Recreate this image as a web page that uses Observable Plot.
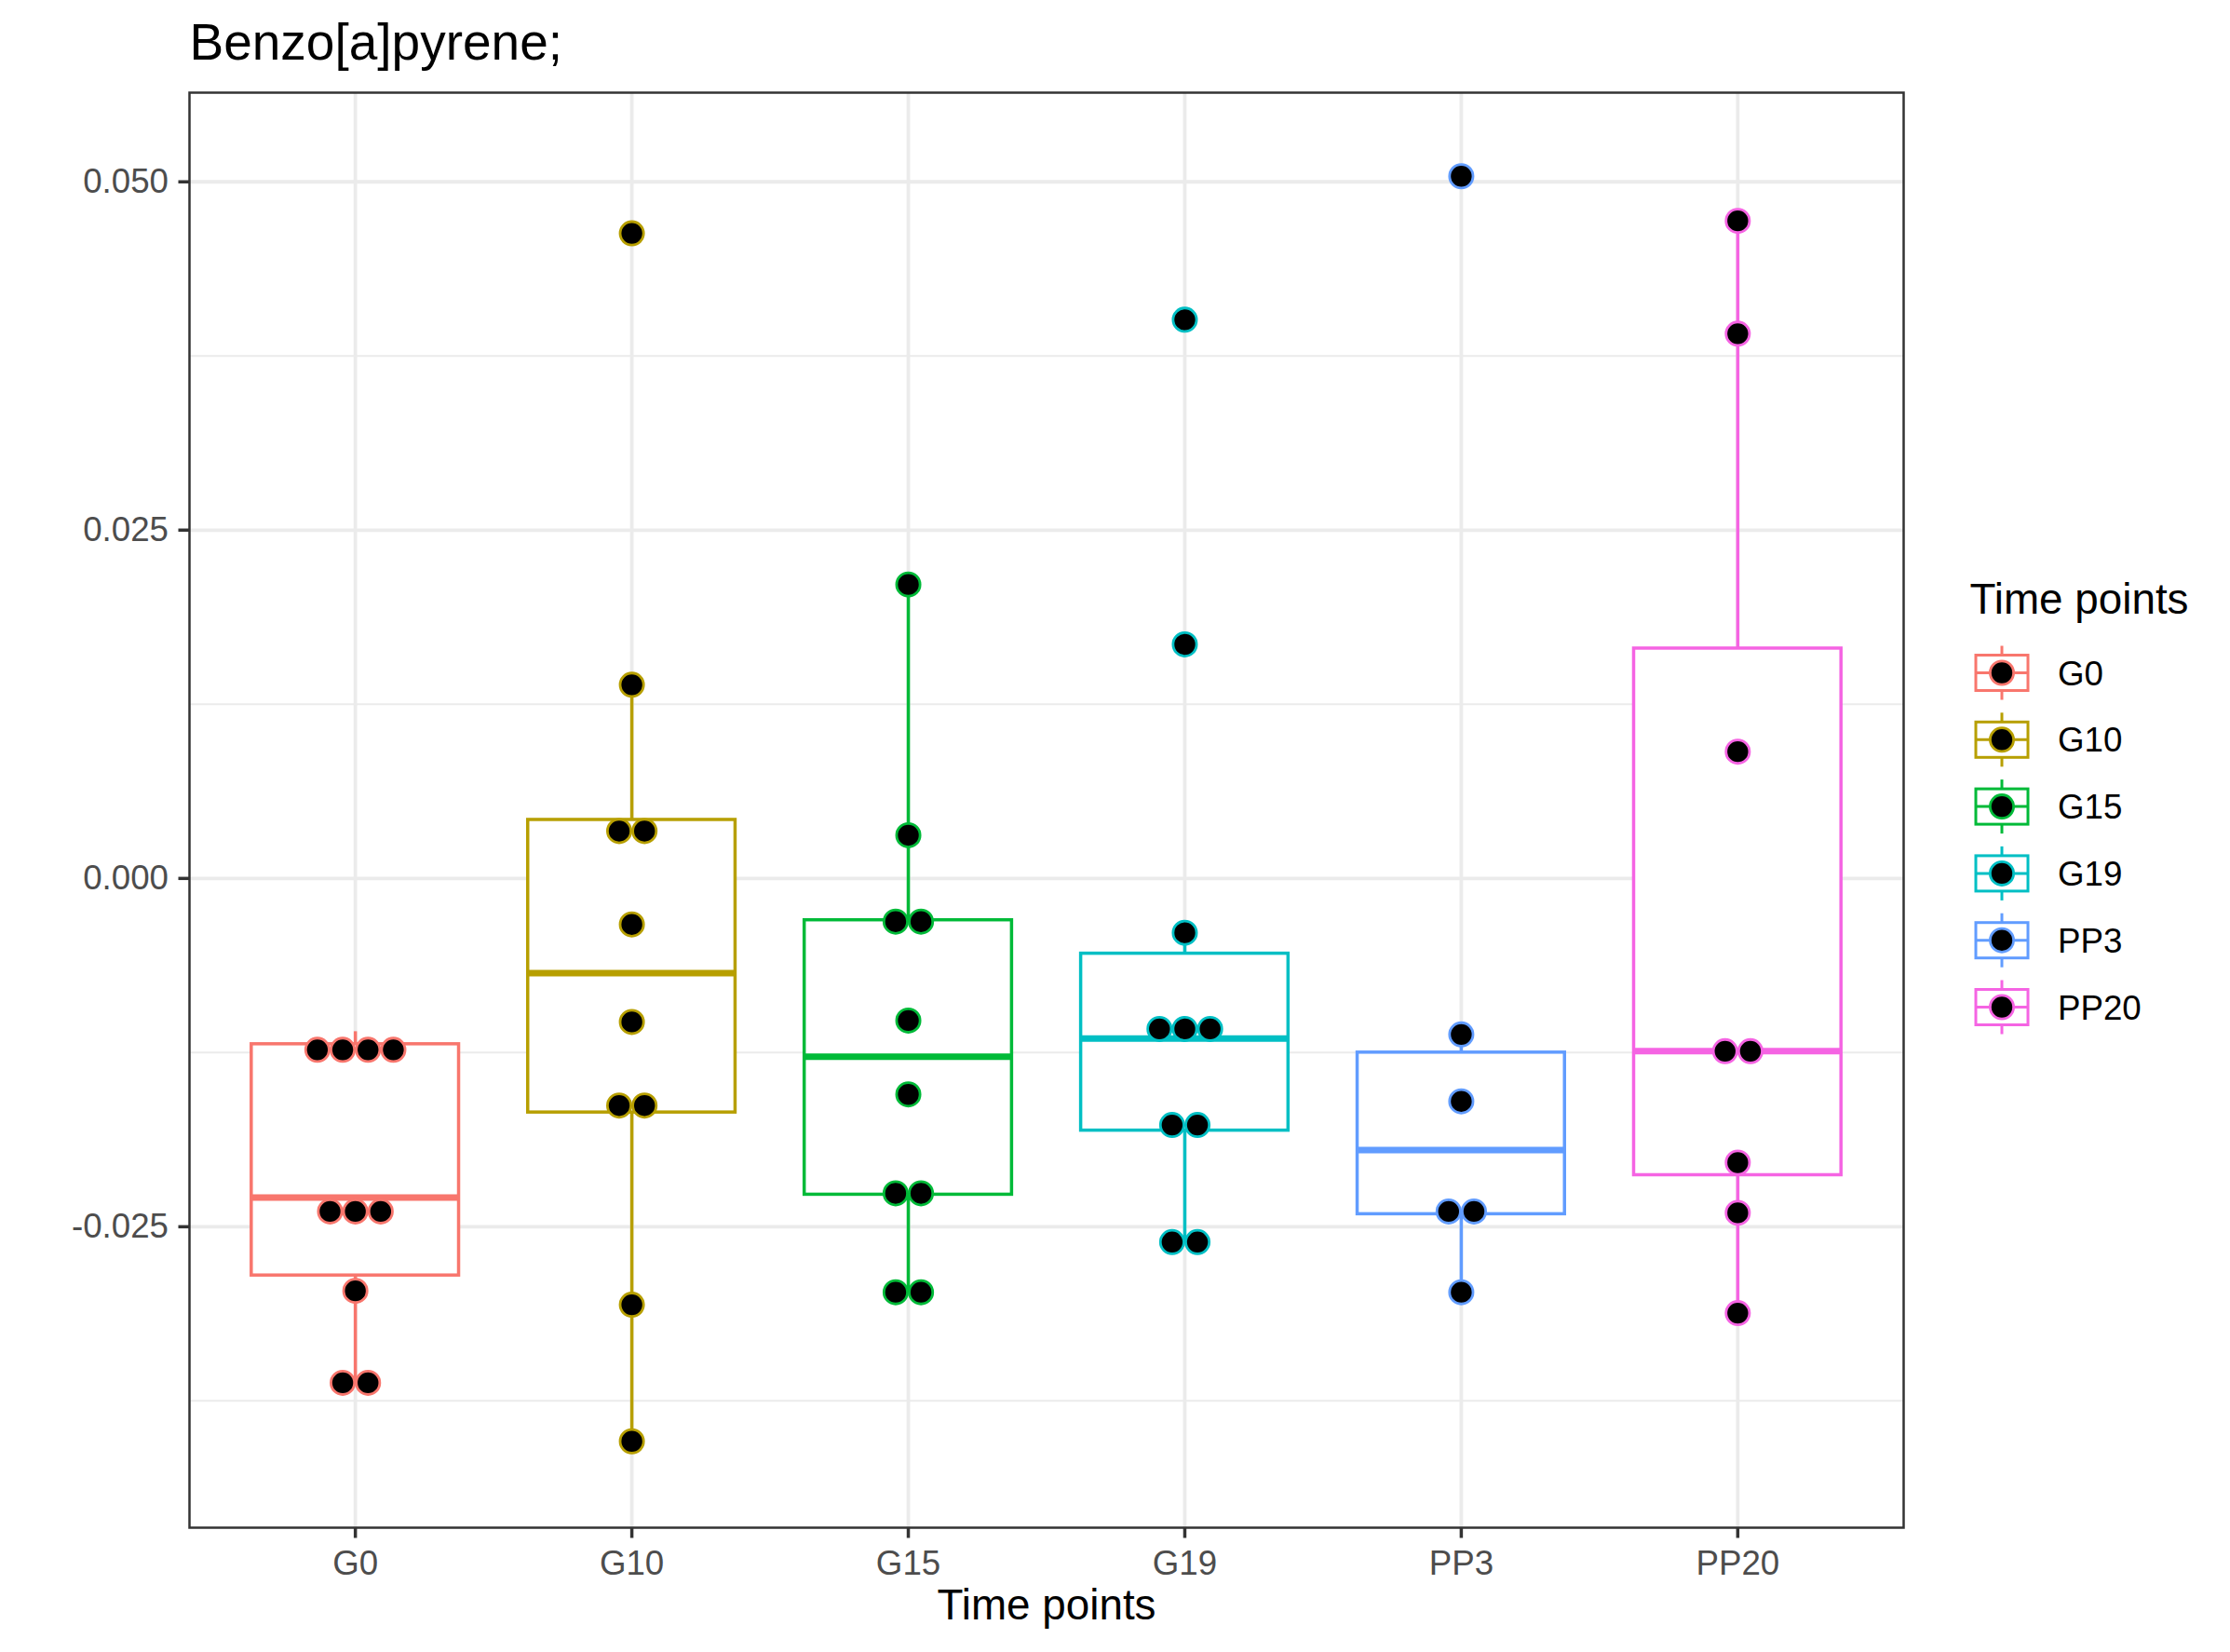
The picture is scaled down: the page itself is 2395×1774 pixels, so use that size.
<!DOCTYPE html>
<html>
<head>
<meta charset="utf-8">
<script src="https://cdn.jsdelivr.net/npm/d3@7"></script>
<script src="https://cdn.jsdelivr.net/npm/@observablehq/plot@0.6"></script>
<style>
  html, body { margin: 0; padding: 0; background: #ffffff; }
  #wrap { position: relative; width: 2395px; height: 1774px; background: #ffffff;
          font-family: "Liberation Sans", Arial, Helvetica, sans-serif; }
  #chart { position: absolute; left: 0; top: 0; }
  #legend { position: absolute; left: 2050px; top: 600px; }
</style>
</head>
<body>
<div id="wrap">
  <div id="chart"></div>
  <svg id="legend"></svg>
</div>
<script>
// ---------- data ----------
const chartTitle = "Benzo[a]pyrene;";
const xTitle = "Time points";
const legendTitle = "Time points";
const categories = ["G0", "G10", "G15", "G19", "PP3", "PP20"];
const groupColors = ["#F8766D", "#B79F00", "#00BA38", "#00BFC4", "#619CFF", "#F564E3"];

const yTicks = [-0.025, 0, 0.025, 0.05];
const yMinorTicks = [-0.0375, -0.0125, 0.0125, 0.0375];
const yDomain = [-0.0466, 0.0564];

// dot values per time point (as plotted by the dot plot)
const valuesG0   = [-0.0123, -0.0123, -0.0123, -0.0123, -0.0239, -0.0239, -0.0239, -0.0296, -0.0362, -0.0362];
const valuesG10  = [0.0463, 0.0139, 0.0034, 0.0034, -0.0033, -0.0103, -0.0163, -0.0163, -0.0306, -0.0404];
const valuesG15  = [0.0211, 0.0031, -0.0031, -0.0031, -0.0102, -0.0155, -0.0226, -0.0226, -0.0297, -0.0297];
const valuesG19  = [0.0401, 0.0168, -0.0039, -0.0108, -0.0108, -0.0108, -0.0177, -0.0177, -0.0261, -0.0261];
const valuesPP3  = [0.0504, -0.0112, -0.0160, -0.0239, -0.0239, -0.0297];
const valuesPP20 = [0.0472, 0.0391, 0.0091, -0.0124, -0.0124, -0.0204, -0.0240, -0.0312];

// box-plot statistics per time point
const boxMin    = [-0.0362, -0.0404, -0.0297, -0.0261, -0.0297, -0.0312];
const boxQ1     = [-0.0285, -0.0168, -0.0227, -0.0181, -0.0241, -0.0213];
const boxMedian = [-0.0229, -0.0068, -0.0128, -0.0115, -0.0195, -0.0124];
const boxQ3     = [-0.0119,  0.0042, -0.0030, -0.0054, -0.0125,  0.0165];
const boxMax    = [-0.0110,  0.0139,  0.0211, -0.0039, -0.0112,  0.0472];

// ---------- tables built from the arrays ----------
const groupValues = [valuesG0, valuesG10, valuesG15, valuesG19, valuesPP3, valuesPP20];
const boxes = categories.map((cat, i) => ({
  cat, min: boxMin[i], q1: boxQ1[i], median: boxMedian[i], q3: boxQ3[i], max: boxMax[i]
}));

// dot-plot stacking: identical values are laid side by side, centred
const points = [];
categories.forEach((cat, i) => {
  const bins = d3.group(groupValues[i], v => v.toFixed(4));
  for (const [, vals] of bins) {
    vals.forEach((v, k) => points.push({cat, value: v, slot: k - (vals.length - 1) / 2}));
  }
});
const slots = Array.from(new Set(points.map(p => p.slot))).sort((a, b) => a - b);
const dotStep = 27.2;

const font = '"Liberation Sans", Arial, Helvetica, sans-serif';

const dotMarks = slots.map(s =>
  Plot.dot(points.filter(p => p.slot === s), {
    x: "cat", y: "value", dx: s * dotStep, r: 12.6,
    fill: "black", stroke: "cat", strokeWidth: 2.8
  })
);

const chart = Plot.plot({
  width: 2395,
  height: 1774,
  marginLeft: 203,
  marginRight: 351,
  marginTop: 99,
  marginBottom: 134,
  style: { fontFamily: font, fontSize: "36.7px", background: "white", color: "#4D4D4D", overflow: "visible" },
  x: { type: "band", domain: categories, paddingInner: 0.25, paddingOuter: 0.225, align: 0.5, round: false, label: null },
  y: { domain: yDomain, label: null },
  color: { domain: categories, range: groupColors },
  marks: [
    Plot.ruleY(yMinorTicks, { stroke: "#EBEBEB", strokeWidth: 2 }),
    Plot.ruleY(yTicks, { stroke: "#EBEBEB", strokeWidth: 3.8 }),
    Plot.ruleX(categories, { x: d => d, stroke: "#EBEBEB", strokeWidth: 3.8 }),
    Plot.ruleX(boxes, { x: "cat", y1: "min", y2: "q1", stroke: "cat", strokeWidth: 3.5 }),
    Plot.ruleX(boxes, { x: "cat", y1: "q3", y2: "max", stroke: "cat", strokeWidth: 3.5 }),
    Plot.barY(boxes, { x: "cat", y1: "q1", y2: "q3", fill: "white", stroke: "cat", strokeWidth: 3.5 }),
    Plot.tickY(boxes, { x: "cat", y: "median", stroke: "cat", strokeWidth: 7 }),
    ...dotMarks,
    Plot.frame({ stroke: "#333333", strokeWidth: 2.5 }),
    Plot.axisY(yTicks, {
      tickFormat: v => v.toFixed(3), tickSize: 11.5, tickPadding: 11,
      stroke: "#333333", strokeWidth: 3.5, fill: "#4D4D4D", fontSize: 36.7, label: null
    }),
    Plot.axisX({
      tickSize: 11.5, tickPadding: 13,
      stroke: "#333333", strokeWidth: 3.5, fill: "#4D4D4D", fontSize: 36.7, label: null
    }),
    Plot.text([xTitle], { text: d => d, frameAnchor: "bottom", lineAnchor: "middle", dy: 84, fill: "black", fontSize: 45.8 }),
    Plot.text([chartTitle], { text: d => d, frameAnchor: "top-left", lineAnchor: "middle", textAnchor: "start", dy: -53.6, fill: "black", fontSize: 55 })
  ]
});
document.getElementById("chart").appendChild(chart);

// ---------- legend ----------
const leg = d3.select("#legend").attr("width", 345).attr("height", 540)
  .attr("font-family", font);
leg.append("text").attr("x", 65.5).attr("y", 58.5).attr("font-size", 45.8)
  .attr("fill", "black").text(legendTitle);
categories.forEach((cat, i) => {
  const cy = 122.5 + i * 71.8;
  const col = groupColors[i];
  const g = leg.append("g").attr("transform", `translate(100,${cy})`);
  g.append("line").attr("x1", 0).attr("x2", 0).attr("y1", -29).attr("y2", 29)
    .attr("stroke", col).attr("stroke-width", 3);
  g.append("rect").attr("x", -28).attr("y", -19).attr("width", 56).attr("height", 38)
    .attr("fill", "white").attr("stroke", col).attr("stroke-width", 3);
  g.append("line").attr("x1", -28).attr("x2", 28).attr("y1", 0).attr("y2", 0)
    .attr("stroke", col).attr("stroke-width", 3);
  g.append("circle").attr("r", 12.6).attr("fill", "black").attr("stroke", col).attr("stroke-width", 2.8);
  leg.append("text").attr("x", 160).attr("y", cy + 13).attr("font-size", 36.7)
    .attr("fill", "black").text(cat);
});
</script>
</body>
</html>
